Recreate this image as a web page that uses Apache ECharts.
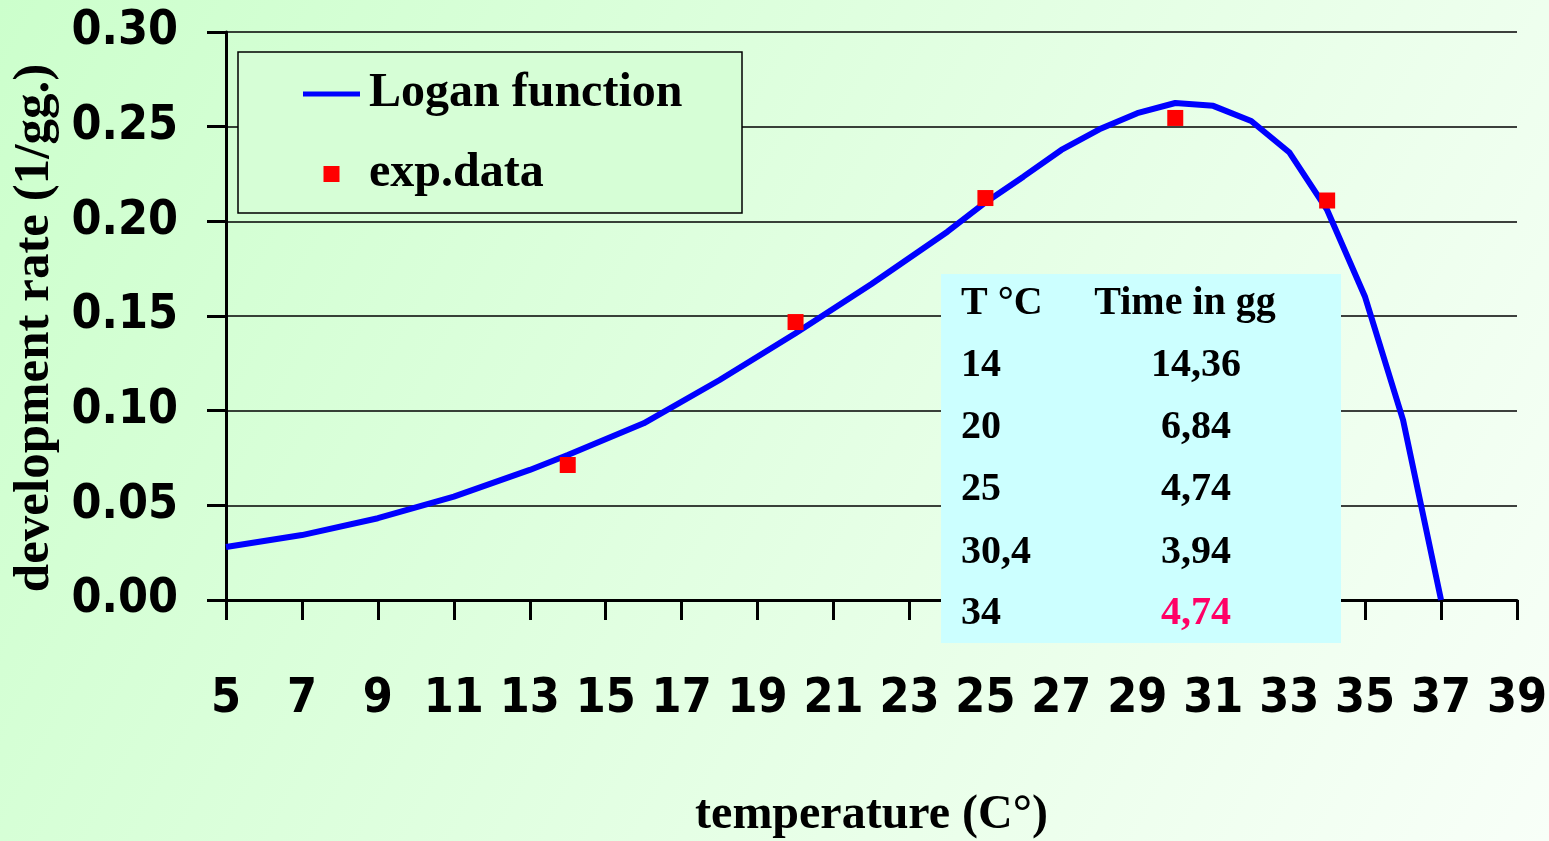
<!DOCTYPE html>
<html>
<head>
<meta charset="utf-8">
<title>development rate</title>
<script src="https://cdn.jsdelivr.net/npm/echarts@6/dist/echarts.min.js"></script>
<style>
  html, body { margin: 0; padding: 0; }
  #chart { width: 1549px; height: 841px; }
</style>
</head>
<body>
<div id="chart"></div>
<script>
// Logan function curve
const curveTemp = [5, 7, 9, 11, 13, 14, 16, 18, 20, 22, 24, 25, 26, 27, 28, 29, 30, 31, 32, 33, 34, 35, 36, 37];
const curveRate = [0.028, 0.0343, 0.0432, 0.0546, 0.0687, 0.0766, 0.0933, 0.1162, 0.1409, 0.1669, 0.1945,
  0.210, 0.2236, 0.2377, 0.2486, 0.2571, 0.2625, 0.261, 0.253, 0.2365, 0.206, 0.160, 0.095, 0];

// experimental points
const expTemp = [14, 20, 25, 30, 34];
const expRate = [0.0713, 0.1468, 0.2123, 0.2546, 0.211];

// x tick labels
const xTicks = [5, 7, 9, 11, 13, 15, 17, 19, 21, 23, 25, 27, 29, 31, 33, 35, 37, 39];

// inset table
const tableHeader = ["T \u00b0C", "Time in gg"];
const tableTemp = ["14", "20", "25", "30,4", "34"];
const tableDays = ["14,36", "6,84", "4,74", "3,94", "4,74"];
const tableDayColors = ["#000", "#000", "#000", "#000", "#ff0066"];

const tickFont = "'DejaVu Sans Condensed', 'DejaVu Sans', sans-serif";
const serif = "'Liberation Serif', 'DejaVu Serif', serif";

const chart = echarts.init(document.getElementById("chart"));

function cell(text, x, y, align, color) {
  return {
    type: "text", z: 101,
    style: { text: text, x: x, y: y, font: "bold 40px " + serif, fill: color,
      textAlign: align, textVerticalAlign: "middle", align: align, verticalAlign: "middle" },
  };
}

const rowY = [366, 428, 490, 553, 614];
const tableText = [cell(tableHeader[0], 961, 304, "left", "#000"), cell(tableHeader[1], 1185, 304, "center", "#000")];
tableTemp.forEach((t, i) => {
  tableText.push(cell(t, 961, rowY[i], "left", "#000"));
  tableText.push(cell(tableDays[i], 1196, rowY[i], "center", tableDayColors[i]));
});

const option = {
  animation: false,
  backgroundColor: {
    type: "linear", x: 0, y: 0, x2: 1, y2: 1,
    colorStops: [
      { offset: 0, color: "#ccffcc" },
      { offset: 1, color: "#f8fff8" },
    ],
  },
  grid: { left: 226, right: 32, top: 32, bottom: 241, outerBoundsMode: "none" },
  xAxis: {
    type: "value",
    min: 5,
    max: 39,
    name: "temperature (C\u00b0)",
    nameLocation: "middle",
    nameGap: 192,
    nameTextStyle: { fontFamily: serif, fontWeight: "bold", fontSize: 48, color: "#000" },
    axisLine: { show: true, onZero: false, lineStyle: { color: "#000", width: 3 } },
    axisTick: { show: true, customValues: xTicks, length: 20, lineStyle: { color: "#000", width: 3 } },
    axisLabel: {
      customValues: xTicks,
      margin: 76,
      fontFamily: tickFont, fontWeight: "bold", fontSize: 48, color: "#000",
    },
    splitLine: { show: false },
  },
  yAxis: {
    type: "value",
    min: 0,
    max: 0.3,
    interval: 0.05,
    name: "development rate (1/gg.)",
    nameLocation: "middle",
    nameGap: 166,
    nameTextStyle: { fontFamily: serif, fontWeight: "bold", fontSize: 51, color: "#000", padding: [0, 24, 0, 0] },
    axisLine: { show: true, lineStyle: { color: "#000", width: 3 } },
    axisTick: { show: true, length: 19, lineStyle: { color: "#000", width: 3 } },
    axisLabel: {
      margin: 48,
      formatter: (v) => v.toFixed(2),
      fontFamily: tickFont, fontWeight: "bold", fontSize: 48, color: "#000",
    },
    splitLine: { show: true, lineStyle: { color: "#000", width: 1.5 } },
  },
  legend: {
    orient: "vertical",
    left: 303,
    top: 60,
    itemWidth: 57,
    itemHeight: 16,
    itemGap: 12,
    padding: 0,
    textStyle: { fontFamily: serif, fontWeight: "bold", fontSize: 48, color: "#000", lineHeight: 50, padding: [18, 0, 0, 4] },
    data: [
      { name: "Logan function", icon: "path://M0,0h57v5h-57z" },
      { name: "exp.data", icon: "path://M0,0h1v1h-1z" },
    ],
    z: 20,
  },
  graphic: [
    {
      type: "rect", z: 15,
      shape: { x: 238, y: 52, width: 504, height: 161 },
      style: { fill: "#d6fed6", stroke: "#000", lineWidth: 1.5 },
    },
    {
      type: "rect", z: 100,
      shape: { x: 941, y: 274, width: 400, height: 369 },
      style: { fill: "#ccffff" },
    },
    ...tableText,
  ],
  series: [
    {
      name: "Logan function",
      type: "line",
      data: curveTemp.map((t, i) => [t, curveRate[i]]),
      symbol: "none",
      lineStyle: { color: "#0000ff", width: 6 },
      itemStyle: { color: "#0000ff" },
      z: 3,
    },
    {
      name: "exp.data",
      type: "scatter",
      data: expTemp.map((t, i) => [t, expRate[i]]),
      symbol: "rect",
      symbolSize: 16,
      itemStyle: { color: "#ff0000", opacity: 1 },
      z: 4,
    },
  ],
};

chart.setOption(option);
</script>
</body>
</html>
